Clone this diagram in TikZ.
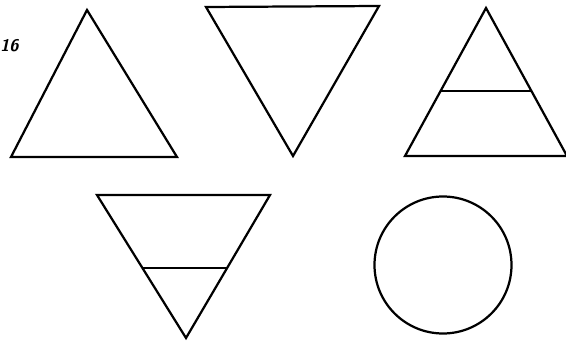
\documentclass[tikz,border=0pt]{standalone}
\usepackage{tikz}
\usetikzlibrary{calc}

\begin{document}
\begin{tikzpicture}[
  x=0.03cm,y=-0.03cm,
  outline/.style={draw,line width=1.9pt,line join=miter},
  band/.style={draw,line width=2.2pt},
  fignum/.style={font=\sffamily\bfseries\itshape\Large,inner sep=0pt}
]
\useasboundingbox (0,0) rectangle (566,343);
\node[fignum,anchor=east] (num) at (19,46) {16};
% top row
\draw[outline] (87,10) -- (177,157) -- (11,157) -- cycle;
\draw[outline] (206,7) -- (379,6) -- (293,156) -- cycle;
\coordinate (apex) at (486,8);
\coordinate (bl) at (405,156);
\coordinate (br) at (567,156);
\draw[outline] (apex) -- (br) -- (bl) -- cycle;
\draw[band] ($(apex)!0.56!(bl)$) -- ($(apex)!0.56!(br)$);
% bottom row
\coordinate (tl) at (97,195);
\coordinate (tr) at (270,195);
\coordinate (tip) at (186,338);
\draw[outline] (tl) -- (tr) -- (tip) -- cycle;
\draw[band] ($(tip)!0.49!(tl)$) -- ($(tip)!0.49!(tr)$);
\draw[outline] (443,265) circle (68.5);
\end{tikzpicture}
\end{document}
